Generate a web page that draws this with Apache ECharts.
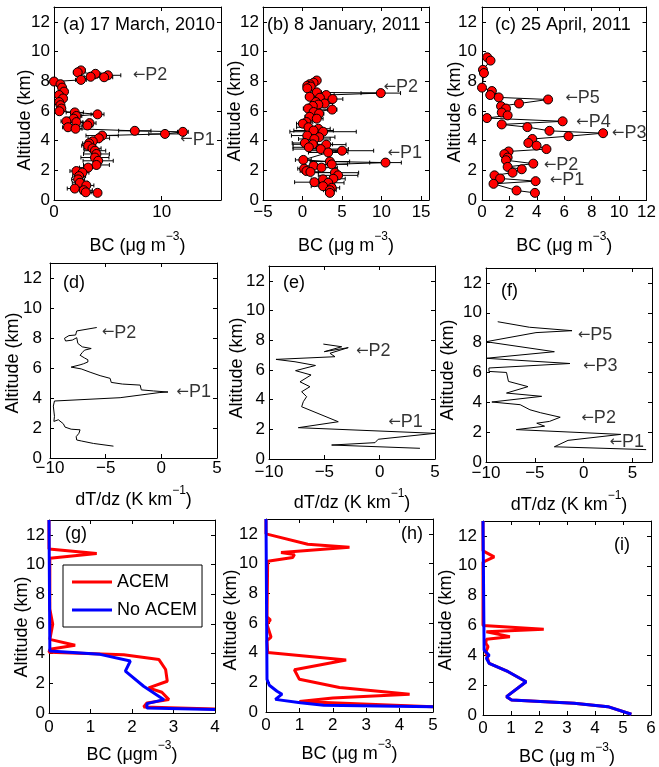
<!DOCTYPE html>
<html><head><meta charset="utf-8">
<script src="https://cdn.jsdelivr.net/npm/echarts@6/dist/echarts.min.js"></script>
<style>html,body{margin:0;padding:0;background:#fff}#c{width:659px;height:767px}</style>
</head><body><div id="c"></div><script>
// ---------- DATA ----------
// (a) 17 March 2010 : BC, altitude, error
const aBC  = [2.5,2.2,3.85,5.0,4.65,3.4,2.5,0.0,0.6,0.75,0.93,0.47,0.84,0.47,0.6,0.68,0.5,1.93,4.04,2.08,1.83,1.15,2.08,3.3,3.1,1.3,2.0,7.5,11.96,10.3,4.47,4.16,3.6,3.26,3.17,3.57,3.8,3.94,3.8,4.1,3.94,3.17,2.08,2.64,2.33,2.24,2.4,3.0,1.93,2.76,2.95,4.04];
const aAlt = [8.73,8.60,8.50,8.40,8.27,8.30,8.09,7.98,7.80,7.57,7.30,7.07,6.84,6.60,6.39,6.16,5.98,5.90,5.77,5.66,5.48,5.30,5.25,5.18,5.02,4.90,4.80,4.66,4.59,4.45,4.34,4.16,3.95,3.82,3.66,3.48,3.32,3.10,2.86,2.64,2.36,2.18,1.95,1.84,1.61,1.39,1.16,0.98,0.77,0.66,0.52,0.48];
const aErr = [0.4,0.4,0.5,1.2,0.8,0.6,0.5,0.3,0.3,0.3,0.3,0.3,0.3,0.3,0.3,0.3,0.3,0.8,0.6,0.5,0.5,0.5,0.6,0.6,0.5,0.5,0.6,1.5,0.5,1.5,1.5,1.0,0.6,0.6,0.6,0.8,1.0,1.2,1.3,1.4,1.2,0.8,0.6,0.6,0.6,0.6,0.7,0.7,0.7,0.8,0.5,0.3];
// (b) 8 January 2011
const bBC  = [1.8,1.4,0.9,0.6,1.04,0.6,1.8,9.9,3.0,0.9,2.2,3.8,1.7,2.8,2.0,1.3,0.7,3.75,1.4,2.1,0.9,1.8,0.5,0.04,0.75,2.0,1.4,2.6,0.6,2.1,1.5,0.3,1.3,3.0,0.8,2.3,5.0,3.25,0.1,3.46,10.5,3.7,1.4,2.4,0.2,0.5,1.0,4.1,4.5,3.9,2.6,1.5,3.25,2.6,3.7,3.46,3.46];
const bAlt = [8.05,7.90,7.80,7.70,7.64,7.52,7.25,7.20,7.07,6.95,6.89,6.80,6.60,6.50,6.43,6.34,6.16,6.09,5.93,5.82,5.60,5.48,5.25,5.14,4.90,4.80,4.68,4.60,4.34,4.23,4.11,3.84,3.75,3.73,3.55,3.43,3.32,3.20,2.70,2.59,2.52,2.40,2.30,2.18,2.11,1.95,1.89,1.84,1.66,1.43,1.39,1.20,1.16,0.93,0.82,0.66,0.48];
const bErr = [0.3,0.3,0.3,0.3,0.4,0.4,0.6,2.5,1.0,0.5,1.0,1.3,0.7,1.0,0.7,0.6,0.6,0.6,0.6,0.6,0.6,0.8,0.8,0.8,1.5,1.5,2.5,4.2,2.0,2.0,2.0,1.6,2.5,2.5,2.0,3.5,4.0,2.5,1.0,2.5,2.0,2.0,1.0,2.0,0.8,0.8,1.0,3.0,2.5,1.5,1.5,2.5,2.0,1.5,1.0,0.8,0.5];
// (c) 25 April 2011
const cBC  = [0.38,0.62,0.07,0.14,0,0.72,0.6,1.22,4.82,2.7,1.39,1.75,1.44,1.87,0.36,5.88,1.44,3.31,4.92,8.83,6.31,3.67,3.38,3.98,4.7,1.94,1.63,1.87,1.75,3.74,1.87,2.9,2.23,0.91,1.32,3.91,0.84,2.52,3.86];
const cAlt = [9.61,9.39,8.77,8.55,7.57,7.34,7.07,6.91,6.77,6.5,6.32,6.16,5.89,5.7,5.52,5.3,5.09,4.91,4.66,4.5,4.3,4.11,3.84,3.66,3.43,3.27,3.09,2.86,2.68,2.45,2.23,2.07,1.84,1.66,1.45,1.27,1.09,0.64,0.48];
// (d)(e)(f) dT/dz profiles
const dT   = [-5.8,-7.6,-7.7,-8.3,-8.7,-8.6,-8.0,-7.6,-7.5,-7.1,-6.3,-6.9,-7.1,-7.3,-6.9,-6.6,-6.6,-7.0,-7.3,-8.1,-7.2,-6.4,-5.5,-4.6,-4.5,-3.5,-1.9,-1.8,-0.7,0.6,-0.2,-3.7,-9.6,-9.7,-9.6,-9.65,-9.25,-8.8,-8.65,-8.1,-7.3,-7.4,-7.65,-7.6,-7.15,-6.1,-4.3];
const dAlt = [8.7,8.47,8.2,8.16,7.98,7.8,7.86,8.02,7.64,7.41,7.3,7.19,7.03,6.85,6.67,6.55,6.4,6.28,6.21,6.06,5.94,5.72,5.49,5.31,5.04,4.93,4.86,4.54,4.47,4.4,4.36,4.02,3.8,3.46,2.78,2.44,2.55,2.28,2.06,1.92,1.88,1.65,1.42,1.2,1.13,0.97,0.79];
const eT   = [-5.09,-3.43,-5.0,-2.84,-4.49,-4.04,-9.37,-7.65,-5.8,-7.6,-6.2,-7.2,-6.3,-7.05,-6.6,-6.9,-7.05,-3.74,-7.35,5.0,-0.13,-0.42,-4.34,3.64];
const eAlt = [7.74,7.56,7.23,7.5,7.12,6.89,6.71,6.55,6.3,5.95,5.66,5.2,4.87,4.53,4.2,3.86,3.52,2.51,2.11,1.73,1.33,1.1,0.94,0.72];
const fT   = [-8.8,-5.56,-1.19,-4.88,-10,-3.0,-10,-1.4,-9.7,-9.7,-7.9,-7.7,-5.7,-7.9,-4.3,-9.4,-6.5,-5.5,-4.4,-2.4,-3.5,-4.8,-4.0,-6.9,3.8,-1.6,-3.0,6.4];
const fAlt = [9.4,9.03,8.8,8.67,8.06,7.39,6.95,6.6,6.3,6.07,6.0,5.4,5.05,4.62,4.4,4.02,3.84,3.5,3.3,3.0,2.72,2.6,2.4,2.17,1.85,1.45,1.02,0.83];
// (g)(h)(i) model BC
const gRedBC   = [0,0,1.15,0.02,0.02,0.09,0.02,0.63,0.02,0,1.8,2.65,2.81,2.85,2.4,2.72,2.89,2.36,2.28,4.0];
const gRedAlt  = [13,11.05,10.74,10.42,7.0,5.98,4.96,4.56,4.29,4.1,3.92,3.6,2.93,2.14,1.69,1.4,0.9,0.68,0.41,0.27];
const gBlueBC  = [0,0.02,0.02,1.23,1.96,1.84,2.28,2.77,2.36,2.36,4.0];
const gBlueAlt = [13,4.51,4.17,3.95,3.5,2.82,1.8,0.9,0.63,0.34,0.23];
const hRedBC   = [0,0,1.25,2.5,0.45,0.85,0.8,0.05,0.03,0.13,0.03,0.15,0.03,0.05,2.4,0.85,1.0,2.2,4.3,2.0,1.0,5.0];
const hRedAlt  = [13,12.0,11.3,11.1,10.75,10.6,10.4,10.15,6.4,6.2,5.9,5.05,4.8,4.0,3.5,2.85,2.2,1.65,1.2,0.95,0.7,0.35];
const hBlueBC  = [0,0.03,0.1,0.33,0.48,0.28,1.03,1.73,5.0];
const hBlueAlt = [13,2.2,1.8,1.4,1.2,0.85,0.62,0.45,0.35];
const iRedBC   = [0,0,0.4,0,0,0.05,2.17,0.12,0.96,0.12,0.1,0.18,0.1,0.22,0.9,1.54,0.84,1.02,3.25,4.46,5.3];
const iRedAlt  = [13,11.0,10.6,10.25,6.0,5.9,5.74,5.58,5.25,5.07,4.8,4.58,4.2,3.46,2.9,2.23,1.23,1.0,0.78,0.56,0.05];
const iBlueBC  = [0,0.04,0.22,0.12,0.22,0.9,1.54,0.84,1.02,3.25,4.46,5.3];
const iBlueAlt = [13,4.35,4.0,3.8,3.46,2.9,2.23,1.23,1.0,0.78,0.56,0.05];
// annotations [name, x, altitude]
const aAnn = [['P2',7.3,8.4],['P1',11.7,4.07]];
const bAnn = [['P2',10.25,7.61],['P1',10.75,3.16]];
const cAnn = [['P5',6.07,6.89],['P4',6.86,5.25],['P3',9.47,4.48],['P2',4.5,2.36],['P1',4.94,1.36]];
const dAnn = [['P2',-5.35,8.36],['P1',1.35,4.41]];
const eAnn = [['P2',-2.14,7.3],['P1',0.78,2.51]];
const fAnn = [['P5',-0.6,8.51],['P3',-0.07,6.41],['P2',-0.24,2.95],['P1',2.64,1.34]];
const panelTitles = ['(a) 17 March, 2010','(b) 8 January, 2011','(c) 25 April, 2011','(d)','(e)','(f)','(g)','(h)','(i)'];
const legendNames = ['ACEM','No ACEM'];

// ---------- LAYOUT ----------
const FONT = '"Liberation Sans", Arial, Helvetica, sans-serif';
const G = [
 {l:54,t:7,w:167,h:193},{l:263,t:7,w:166,h:193},{l:482,t:7,w:169,h:193},
 {l:50,t:263,w:167,h:195},{l:269,t:266,w:166,h:193},{l:486,t:268,w:166,h:194},
 {l:49,t:520,w:166,h:193},{l:266,t:519,w:167,h:193},{l:483,t:521,w:168,h:194}];
const XS = [
 {min:0,max:15.5,int:10,sm:false},{min:-5,max:16,int:5,sm:false},{min:0,max:12,int:2,sm:true},
 {min:-10,max:5,int:5,sm:true},{min:-10,max:5,int:5,sm:true},{min:-10,max:7,int:5,sm:false},
 {min:0,max:4,int:1,sm:true},{min:0,max:5,int:1,sm:true},{min:0,max:6,int:1,sm:true}];
const YLM = [4,4,5,8,4,4,4,8,6];
const XLM = [4,4,4,2,5,3,6,5,5];
const XN = ['{m|BC (μg m}{s|−3}{m|)}','{m|BC (μg m}{s|−3}{m|)}','{m|BC (μg m}{s|−3}{m|)}',
 '{m|dT/dz (K km}{s|−1}{m|)}','{m|dT/dz (K km}{s|−1}{m|)}','{m|dT/dz (K km}{s|−1}{m|)}',
 '{m|BC (μgm}{s|−3}{m|)}','{m|BC (μg m}{s|−3}{m|)}','{m|BC (μg m}{s|−3}{m|)}'];
const XG = [31,31,31,27,29,28,27,27,27];
const YNAME = [[25.5,120],[235,111],[455,112],[13.5,363],[237,368],[448,370],[22,627],[231,620],[446,620]];
const TITLE = [[63,25.5,'left'],[267,25.5,'left'],[495,25.5,'left'],[63,283,'left'],[283,283,'left'],[501,291,'left'],[65,534,'left'],[423,534,'right'],[630,545,'right']];

const grids=[], xAxes=[], yAxes=[], series=[], graphic=[];
const fmt = v => String(v).replace('-', '−');
const tick = {show:true, inside:true, length:4, lineStyle:{color:'#000', width:1}};
const aline = {show:true, onZero:false, lineStyle:{color:'#000', width:1}};
G.forEach((g,i)=>{
  grids.push({left:g.l, top:g.t, width:g.w, height:g.h, containLabel:false});
  const xs = XS[i];
  xAxes.push({type:'value', gridIndex:i, position:'bottom', min:xs.min, max:xs.max, interval:xs.int,
    axisLine:aline, axisTick:tick, splitLine:{show:false},
    axisLabel:{color:'#000', fontSize:17, fontFamily:FONT, margin:XLM[i], formatter:fmt, showMaxLabel:xs.sm, showMinLabel:true},
    name:XN[i], nameLocation:'middle', nameGap:XG[i],
    nameTextStyle:{color:'#000', fontFamily:FONT, rich:{
      m:{fontSize:18, lineHeight:30, fontFamily:FONT, color:'#000'},
      s:{fontSize:12, lineHeight:10, verticalAlign:'top', fontFamily:FONT, color:'#000'}}}});
  xAxes.push({type:'value', gridIndex:i, position:'top', min:xs.min, max:xs.max, interval:xs.int,
    axisLine:aline, axisTick:tick, splitLine:{show:false}, axisLabel:{show:false}});
  yAxes.push({type:'value', gridIndex:i, position:'left', min:0, max:13, interval:2,
    axisLine:aline, axisTick:tick, splitLine:{show:false},
    axisLabel:{color:'#000', fontSize:17, fontFamily:FONT, margin:YLM[i], showMaxLabel:false}});
  yAxes.push({type:'value', gridIndex:i, position:'right', min:0, max:13, interval:2,
    axisLine:aline, axisTick:tick, splitLine:{show:false}, axisLabel:{show:false}});
  graphic.push({type:'text', x:YNAME[i][0], y:YNAME[i][1], rotation:Math.PI/2,
    style:{text:'Altitude (km)', fontSize:18, fontFamily:FONT, fill:'#000', align:'center', verticalAlign:'middle'}});
  graphic.push({type:'text', x:TITLE[i][0], y:TITLE[i][1],
    style:{text:panelTitles[i], fontSize:18, fontFamily:FONT, fill:'#000', align:TITLE[i][2], verticalAlign:'middle'}});
});
const zip = (a,b)=>a.map((v,k)=>[v,b[k]]);
function errBars(i, bc, alt, err){
  series.push({type:'custom', xAxisIndex:2*i, yAxisIndex:2*i, z:1, clip:true, silent:true,
    encode:{x:0,y:1}, data:bc.map((v,k)=>[v,alt[k],err[k]]),
    renderItem:(p,api)=>{
      const x=api.value(0), y=api.value(1), e=api.value(2);
      const p1=api.coord([x-e,y]), p2=api.coord([x+e,y]);
      const st={stroke:'#000', lineWidth:1};
      return {type:'group', children:[
        {type:'line', shape:{x1:p1[0],y1:p1[1],x2:p2[0],y2:p2[1]}, style:st},
        {type:'line', shape:{x1:p1[0],y1:p1[1]-2,x2:p1[0],y2:p1[1]+2}, style:st},
        {type:'line', shape:{x1:p2[0],y1:p2[1]-2,x2:p2[0],y2:p2[1]+2}, style:st}]};
    }});
}
function dots(i, bc, alt){
  series.push({type:'line', xAxisIndex:2*i, yAxisIndex:2*i, z:3, data:zip(bc,alt),
    symbol:'circle', symbolSize:9, showSymbol:true, lineStyle:{color:'#000', width:1},
    itemStyle:{color:'#ff0000', borderColor:'#000', borderWidth:1}});
}
function prof(i, x, alt, color, width, name){
  series.push({type:'line', name:name, xAxisIndex:2*i, yAxisIndex:2*i, z:3, data:zip(x,alt),
    symbol:'none', lineStyle:{color:color, width:width}, itemStyle:{color:color}});
}
function ann(i, list){
  series.push({type:'scatter', xAxisIndex:2*i, yAxisIndex:2*i, z:5, silent:true, symbolSize:0,
    data:list.map(a=>({name:a[0], value:[a[1],a[2]]})),
    label:{show:true, position:'right', distance:0, formatter:'{r|←}{t|{b}}',
      rich:{r:{fontSize:15, fontFamily:'"DejaVu Sans", sans-serif', color:'#000'},
            t:{fontSize:18, fontFamily:FONT, color:'#000'}}}});
}
errBars(0,aBC,aAlt,aErr); dots(0,aBC,aAlt); ann(0,aAnn);
errBars(1,bBC,bAlt,bErr); dots(1,bBC,bAlt); ann(1,bAnn);
dots(2,cBC,cAlt); ann(2,cAnn);
prof(3,dT,dAlt,'#000',1); ann(3,dAnn);
prof(4,eT,eAlt,'#000',1); ann(4,eAnn);
prof(5,fT,fAlt,'#000',1); ann(5,fAnn);
prof(6,gRedBC,gRedAlt,'#ff0000',3,legendNames[0]); prof(6,gBlueBC,gBlueAlt,'#0000ff',3,legendNames[1]);
prof(7,hRedBC,hRedAlt,'#ff0000',3,legendNames[0]); prof(7,hBlueBC,hBlueAlt,'#0000ff',3,legendNames[1]);
prof(8,iRedBC,iRedAlt,'#ff0000',3,legendNames[0]); prof(8,iBlueBC,iBlueAlt,'#0000ff',3,legendNames[1]);

const chart = echarts.init(document.getElementById('c'), null, {renderer:'canvas'});
chart.setOption({
  animation:false, backgroundColor:'#fff',
  grid:grids, xAxis:xAxes, yAxis:yAxes, series:series, graphic:graphic,
  legend:{data:legendNames.map(n=>({name:n, icon:'rect'})), orient:'vertical', left:63, top:565,
    itemWidth:40, itemHeight:3, itemGap:8,
    borderColor:'#000', borderWidth:1, borderRadius:0, padding:[7,5,7,9], backgroundColor:'#fff',
    selectedMode:false, textStyle:{fontSize:18, fontFamily:FONT, color:'#000', lineHeight:20}}
});
</script></body></html>
